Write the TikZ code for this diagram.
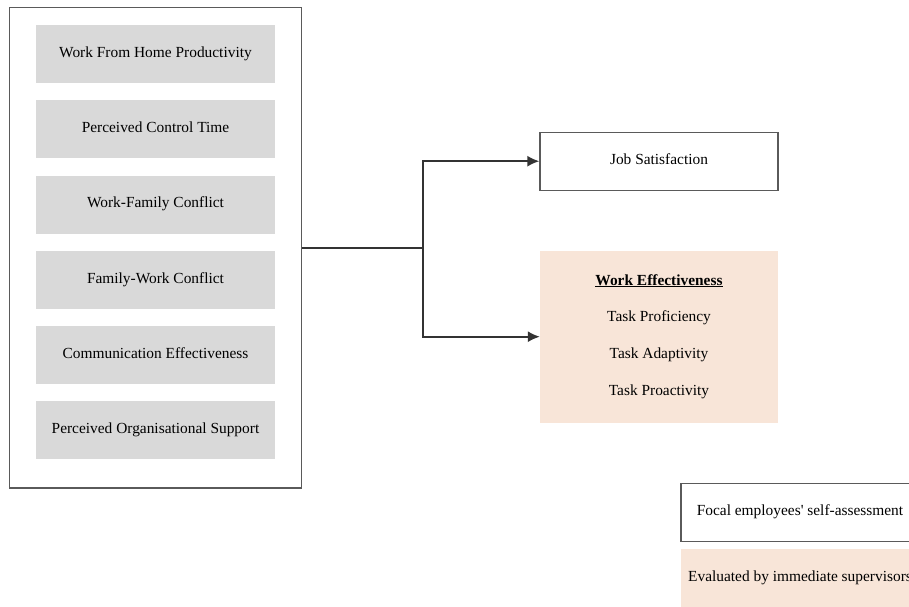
\documentclass[tikz,border=0pt]{standalone}
\usepackage{fontspec}
\setmainfont{Liberation Serif}[Ligatures=TeXOff]
\usetikzlibrary{arrows.meta}
\definecolor{boxgray}{HTML}{D9D9D9}
\definecolor{peach}{HTML}{F8E5D8}
\definecolor{edge}{HTML}{5A5A5A}
\definecolor{wire}{HTML}{333333}
\begin{document}
\begin{tikzpicture}[x=1pt,y=-1pt,
  every node/.style={font=\fontsize{15.4pt}{18pt}\selectfont, text height=0.66em, text depth=0pt},
  factor/.style={fill=boxgray, minimum width=239pt, minimum height=58pt, inner sep=0pt},
  outcome/.style={draw=edge, line width=1.4pt, fill=white, minimum width=238pt, minimum height=58pt, inner sep=0pt},
  wirestyle/.style={draw=wire, line width=1.6pt},
  tip/.style={-{Latex[length=12pt,width=11pt]}}]
\useasboundingbox (0,0) rectangle (909,606);
\clip (0,0) rectangle (909,606);
\fill[white] (0,0) rectangle (909,606);
% outer frame
\node[draw=edge, line width=1.7pt, minimum width=292pt, minimum height=480.5pt, inner sep=0pt, text height=, text depth=] (frame) at (155.5,247.75) {};
% factor boxes
\node[factor] (f1) at (155.5,54) {Work From Home Productivity};
\node[factor] (f2) at (155.5,129.3) {Perceived Control Time};
\node[factor] (f3) at (155.5,204.6) {Work-Family Conflict};
\node[factor] (f4) at (155.5,279.9) {Family-Work Conflict};
\node[factor] (f5) at (155.5,355.2) {Communication Effectiveness};
\node[factor] (f6) at (155.5,430.3) {Perceived Organisational Support};
% outcomes
\node[outcome] (js) at (659,161.2) {Job Satisfaction};
\node[fill=peach, minimum width=238pt, minimum height=172.6pt, inner sep=0pt, text height=, text depth=] (we) at (659,337) {};
\node (weh) at (659,281.7) {\textbf{\underline{Work Effectiveness}}};
\node (we1) at (659,318.2) {Task Proficiency};
\node (we2) at (659,355.5) {Task Adaptivity};
\node (we3) at (659,392.5) {Task Proactivity};
% connectors
\coordinate (split) at (422.7,247.75);
\draw[wirestyle] (frame.east) -- (split);
\draw[wirestyle, tip] (split) |- (js.west);
\draw[wirestyle, tip] (split) |- (we.west |- 0,336.7);
% legend
\node[outcome, minimum width=238pt] (lg1) at (800,512.2) {Focal employees' self-assessment};
\node[fill=peach, minimum width=238pt, minimum height=58pt, inner sep=0pt] (lg2) at (800,578) {Evaluated by immediate supervisors};
\end{tikzpicture}
\end{document}
